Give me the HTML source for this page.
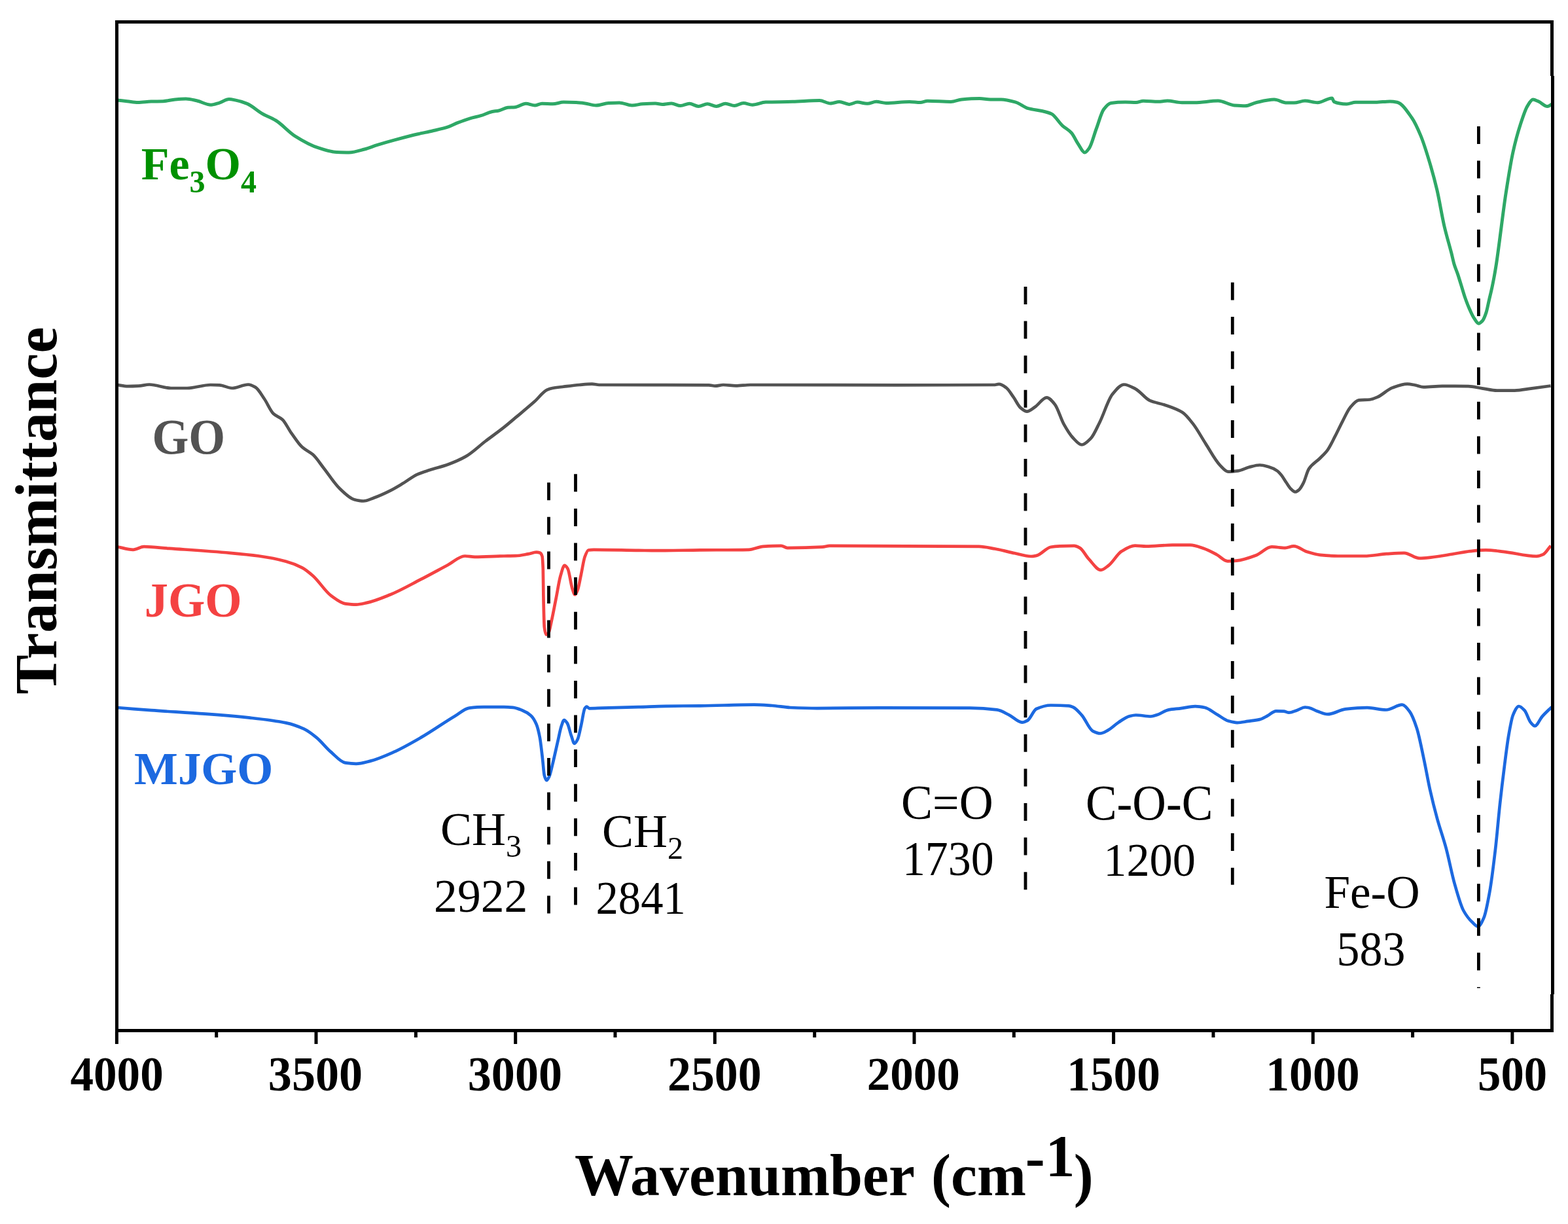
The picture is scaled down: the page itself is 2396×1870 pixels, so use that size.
<!DOCTYPE html>
<html><head><meta charset="utf-8"><style>html,body{margin:0;padding:0;background:#fff;}svg{display:block;}</style></head>
<body><svg width="2396" height="1870" viewBox="0 0 2396 1870">
<rect width="2396" height="1870" fill="#fff"/>
<path d="M178.7 152.9C183.9 153.5 189.1 154.1 194.3 154.7C199.8 155.3 205.3 156.6 210.8 156.6C217.5 156.6 224.3 155.3 231.0 155.1C237.1 154.9 243.2 154.9 249.3 154.7C255.4 154.5 261.5 152.5 267.6 152.0C273.1 151.5 278.5 151.0 284.0 151.0C289.5 151.0 295.0 152.6 300.5 153.8C307.8 155.4 315.2 160.2 322.5 160.2C326.8 160.2 331.0 158.3 335.3 157.1C340.2 155.7 345.1 151.6 350.0 151.6C353.1 151.6 356.1 152.3 359.2 152.9C365.3 154.0 371.4 155.9 377.5 158.4C385.4 161.6 393.4 169.5 401.3 174.0C408.0 177.8 414.7 179.9 421.4 184.0C431.2 189.9 440.9 201.7 450.7 207.8C462.9 215.5 475.2 222.4 487.4 226.2C496.5 229.1 505.7 232.3 514.8 232.6C520.9 232.8 527.1 233.0 533.2 233.0C541.1 233.0 549.1 230.1 557.0 228.0C563.3 226.3 569.7 223.6 576.0 221.6C585.0 218.8 594.0 216.2 603.0 213.8C614.9 210.6 626.8 207.4 638.7 204.7C646.0 203.0 653.4 201.7 660.7 200.0C668.9 198.1 677.2 196.4 685.4 193.7C690.0 192.2 694.5 189.5 699.1 187.7C705.5 185.2 712.0 182.7 718.4 180.8C723.9 179.2 729.3 178.3 734.8 176.7C740.3 175.1 745.8 171.9 751.3 170.7C755.0 169.9 758.6 169.8 762.3 169.0C766.9 168.0 771.4 164.7 776.0 164.3C779.7 164.0 783.3 164.1 787.0 163.8C792.5 163.4 798.0 158.3 803.5 158.3C808.1 158.3 812.7 161.0 817.3 161.0C820.9 161.0 824.6 158.3 828.2 158.3C833.7 158.3 839.2 158.8 844.7 158.8C850.2 158.8 855.7 156.1 861.2 156.1C867.6 156.1 874.0 156.3 880.4 156.6C885.0 156.8 889.6 157.4 894.2 158.0C899.7 158.7 905.2 161.0 910.7 161.0C917.1 161.0 923.5 157.9 929.9 157.5C935.4 157.2 940.9 156.9 946.4 156.9C952.8 156.9 959.2 161.0 965.6 161.0C971.1 161.0 976.5 159.2 982.0 158.8C988.4 158.4 994.9 158.0 1001.3 158.0C1005.0 158.0 1008.6 159.4 1012.3 159.4C1016.9 159.4 1021.4 158.0 1026.0 158.0C1030.6 158.0 1035.2 161.6 1039.8 161.6C1044.4 161.6 1048.9 158.3 1053.5 158.3C1058.1 158.3 1062.7 162.4 1067.3 162.4C1071.9 162.4 1076.4 158.8 1081.0 158.8C1085.6 158.8 1090.1 162.4 1094.7 162.4C1099.3 162.4 1103.9 158.3 1108.5 158.3C1113.1 158.3 1117.6 161.6 1122.2 161.6C1126.8 161.6 1131.4 157.5 1136.0 157.5C1140.6 157.5 1145.1 160.2 1149.7 160.2C1156.5 160.2 1163.2 156.4 1170.0 156.1C1183.7 155.6 1197.5 155.7 1211.2 155.3C1224.9 154.9 1238.7 153.4 1252.4 153.4C1257.9 153.4 1263.4 158.0 1268.9 158.0C1273.5 158.0 1278.0 155.5 1282.6 155.5C1287.6 155.5 1292.7 159.4 1297.7 159.4C1301.8 159.4 1306.0 156.1 1310.1 156.1C1315.1 156.1 1320.2 158.3 1325.2 158.3C1329.8 158.3 1334.4 155.3 1339.0 155.3C1344.0 155.3 1349.0 157.5 1354.0 157.5C1365.9 157.5 1377.9 155.5 1389.8 155.5C1395.3 155.5 1400.8 156.6 1406.3 156.6C1410.0 156.6 1413.6 154.2 1417.3 154.2C1429.2 154.2 1441.1 155.5 1453.0 155.5C1458.5 155.5 1464.0 152.5 1469.5 152.0C1478.6 151.2 1487.8 150.6 1496.9 150.6C1502.4 150.6 1507.9 152.0 1513.4 152.0C1518.9 152.0 1524.4 152.0 1529.9 152.0C1537.2 152.0 1544.6 154.1 1551.9 156.1C1558.3 157.9 1564.7 163.9 1571.1 165.7C1578.4 167.7 1585.8 168.1 1593.1 169.8C1597.7 170.9 1602.2 171.9 1606.8 174.0C1612.3 176.6 1617.8 186.8 1623.3 191.8C1627.9 196.0 1632.4 197.8 1637.0 202.8C1640.7 206.8 1644.3 215.5 1648.0 220.7C1651.2 225.3 1654.4 233.0 1657.6 233.0C1659.9 233.0 1662.2 229.4 1664.5 226.2C1668.2 221.1 1671.8 205.8 1675.5 196.0C1679.2 186.2 1682.8 171.9 1686.5 167.1C1690.2 162.3 1693.8 158.0 1697.5 157.5C1704.8 156.5 1712.2 156.1 1719.5 156.1C1725.0 156.1 1730.5 156.6 1736.0 156.6C1739.7 156.6 1743.3 154.2 1747.0 154.2C1754.7 154.2 1762.3 155.3 1770.0 155.3C1774.6 155.3 1779.2 154.0 1783.8 154.0C1791.2 154.0 1798.6 156.8 1806.0 156.8C1812.4 156.8 1818.9 156.8 1825.3 156.8C1837.3 156.8 1849.3 154.0 1861.3 154.0C1869.6 154.0 1877.8 160.3 1886.1 161.0C1891.6 161.4 1897.2 161.8 1902.7 161.8C1908.2 161.8 1913.8 158.0 1919.3 156.8C1928.5 154.7 1937.8 152.1 1947.0 152.1C1953.4 152.1 1959.9 157.1 1966.3 157.1C1970.0 157.1 1973.7 157.1 1977.4 157.1C1982.9 157.1 1988.5 154.0 1994.0 154.0C2000.5 154.0 2006.9 156.8 2013.4 156.8C2020.8 156.8 2028.1 149.9 2035.5 149.9C2036.4 149.9 2037.4 155.0 2038.3 155.4C2044.7 158.2 2051.2 159.0 2057.6 159.0C2062.2 159.0 2066.8 156.3 2071.4 156.3C2081.6 156.3 2091.7 156.3 2101.9 156.3C2109.3 156.3 2116.6 154.9 2124.0 154.9C2127.7 154.9 2131.3 155.5 2135.0 156.3C2142.4 157.8 2149.8 169.3 2157.2 179.8C2161.8 186.3 2166.4 196.3 2171.0 207.4C2175.6 218.5 2180.2 233.5 2184.8 248.9C2188.5 261.3 2192.2 274.6 2195.9 290.4C2199.6 306.2 2203.3 329.8 2207.0 345.7C2210.7 361.4 2214.3 372.7 2218.0 387.2C2219.3 392.3 2220.6 398.8 2221.9 403.2C2223.8 409.7 2225.8 413.6 2227.7 419.4C2229.4 424.6 2231.2 430.5 2232.9 436.1C2234.8 442.3 2236.8 449.3 2238.7 454.8C2241.1 461.6 2243.4 467.6 2245.8 472.9C2248.0 477.7 2250.1 482.6 2252.3 485.8C2254.7 489.3 2257.0 494.2 2259.4 494.2C2261.3 494.2 2263.3 492.3 2265.2 490.3C2267.1 488.3 2269.1 483.1 2271.0 477.4C2272.5 472.9 2274.0 464.5 2275.5 458.1C2277.0 451.7 2278.5 445.7 2280.0 438.7C2281.1 433.7 2282.1 428.4 2283.2 422.6C2284.3 416.6 2285.4 410.3 2286.5 403.2C2287.6 395.9 2288.8 387.2 2289.9 378.9C2293.6 352.0 2297.3 320.0 2301.0 295.9C2304.7 272.0 2308.3 249.0 2312.0 232.3C2315.7 215.5 2319.4 202.2 2323.1 190.8C2326.8 179.5 2330.4 167.6 2334.1 161.8C2336.9 157.4 2339.7 152.1 2342.5 152.1C2345.3 152.1 2348.0 153.8 2350.8 154.9C2355.4 156.8 2360.0 162.6 2364.6 162.6C2366.9 162.6 2369.2 160.2 2371.5 159.0" fill="none" stroke="#2ea866" stroke-width="5.0" stroke-linejoin="round"/>
<path d="M178.7 588.0C184.2 588.7 189.7 590.2 195.2 590.2C200.7 590.2 206.2 590.0 211.7 589.7C217.2 589.4 222.7 587.5 228.2 587.5C239.2 587.5 250.2 593.0 261.2 593.0C269.4 593.0 277.7 593.0 285.9 593.0C297.8 593.0 309.7 588.0 321.6 588.0C326.2 588.0 330.7 588.1 335.3 588.3C341.7 588.5 348.2 593.0 354.6 593.0C362.8 593.0 371.1 587.5 379.3 587.5C383.0 587.5 386.6 589.5 390.3 591.6C394.9 594.2 399.4 602.9 404.0 609.5C408.6 616.2 413.2 627.7 417.8 632.0C422.4 636.3 426.9 636.8 431.5 641.0C436.1 645.2 440.6 655.2 445.2 661.6C450.7 669.3 456.2 678.1 461.7 683.1C467.2 688.1 472.7 689.7 478.2 694.6C483.7 699.5 489.2 708.3 494.7 715.2C502.9 725.6 511.2 739.1 519.4 746.8C526.7 753.7 534.1 761.5 541.4 763.3C546.0 764.5 550.5 765.5 555.1 765.5C560.6 765.5 566.1 762.5 571.6 760.5C579.8 757.6 588.1 753.7 596.3 749.6C602.7 746.4 609.2 742.4 615.6 738.6C622.9 734.2 630.2 728.1 637.5 724.8C643.9 721.9 650.4 720.1 656.8 718.0C665.9 715.0 675.1 713.0 684.2 709.7C693.4 706.4 702.5 702.6 711.7 697.4C721.8 691.7 731.8 681.7 741.9 674.0C751.3 666.9 760.6 660.3 770.0 652.9C776.4 647.8 782.8 642.3 789.2 636.9C798.4 629.2 807.5 621.8 816.7 613.6C823.1 607.9 829.5 598.6 835.9 595.7C838.7 594.4 841.4 593.5 844.2 593.0C851.5 591.6 858.9 591.1 866.2 590.2C872.6 589.4 879.0 588.6 885.4 588.0C891.8 587.4 898.2 586.6 904.6 586.6C908.3 586.6 911.9 588.0 915.6 588.0C971.5 588.3 1027.3 588.0 1083.2 588.3C1086.4 588.3 1089.6 589.7 1092.8 589.7C1096.9 589.7 1101.1 588.0 1105.2 588.0C1111.6 588.0 1118.0 589.4 1124.4 589.4C1131.7 589.4 1139.1 588.0 1146.4 588.0C1220.9 588.0 1295.5 588.3 1370.0 588.3C1419.5 588.3 1468.9 588.3 1518.4 588.0C1521.1 588.0 1523.9 586.9 1526.6 586.9C1530.3 586.9 1533.9 589.8 1537.6 592.4C1541.3 595.0 1544.9 601.6 1548.6 606.7C1552.3 611.8 1555.9 620.2 1559.6 623.2C1562.8 625.8 1566.0 628.7 1569.2 628.7C1573.3 628.7 1577.4 624.5 1581.5 621.8C1587.5 617.9 1593.4 607.3 1599.4 607.3C1603.5 607.3 1607.7 612.7 1611.8 617.7C1616.4 623.2 1620.9 639.7 1625.5 647.9C1630.1 656.1 1634.6 663.7 1639.2 668.5C1643.8 673.3 1648.4 679.5 1653.0 679.5C1657.6 679.5 1662.1 674.5 1666.7 669.9C1671.3 665.3 1675.8 654.2 1680.4 645.2C1686.8 632.5 1693.3 610.4 1699.7 602.6C1705.6 595.4 1711.6 587.5 1717.5 587.5C1723.5 587.5 1729.4 591.2 1735.4 594.3C1742.7 598.1 1750.1 609.1 1757.4 612.2C1764.7 615.3 1772.0 616.0 1779.3 618.5C1788.5 621.6 1797.6 624.3 1806.8 630.0C1812.3 633.4 1817.8 640.9 1823.3 647.9C1829.7 656.1 1836.1 668.3 1842.5 678.1C1849.8 689.4 1857.2 703.8 1864.5 711.1C1868.6 715.2 1872.8 720.7 1876.9 720.7C1881.9 720.7 1887.0 720.0 1892.0 719.3C1897.5 718.5 1903.0 715.2 1908.5 713.8C1914.0 712.4 1919.5 710.5 1925.0 710.5C1929.6 710.5 1934.1 712.0 1938.7 713.3C1942.9 714.5 1947.1 716.3 1951.3 719.1C1953.5 720.5 1955.7 723.1 1957.9 725.7C1960.4 728.7 1962.9 733.4 1965.4 737.0C1967.9 740.6 1970.4 745.1 1972.9 747.3C1975.1 749.2 1977.3 751.5 1979.5 751.5C1981.4 751.5 1983.2 749.8 1985.1 748.2C1987.3 746.3 1989.5 742.2 1991.7 737.9C1994.5 732.6 1997.2 720.4 2000.0 716.3C2005.7 707.9 2011.4 705.8 2017.1 700.0C2020.9 696.1 2024.8 692.8 2028.6 687.6C2032.4 682.4 2036.2 674.0 2040.0 666.7C2043.8 659.4 2047.6 651.1 2051.4 643.8C2055.2 636.5 2059.1 627.4 2062.9 622.9C2067.3 617.7 2071.8 611.9 2076.2 611.4C2081.9 610.8 2087.6 611.0 2093.3 610.5C2097.1 610.1 2101.0 608.3 2104.8 606.7C2112.4 603.5 2120.0 595.1 2127.6 592.4C2135.2 589.7 2142.9 586.7 2150.5 586.7C2154.3 586.7 2158.1 587.6 2161.9 588.2C2166.3 588.9 2170.8 591.4 2175.2 591.4C2184.7 591.4 2194.3 589.9 2203.8 589.9C2217.1 589.9 2230.5 590.0 2243.8 590.1C2250.8 590.2 2257.8 592.3 2264.8 593.3C2272.4 594.4 2280.0 596.6 2287.6 596.6C2296.5 596.6 2305.4 596.6 2314.3 596.6C2323.2 596.6 2332.1 594.4 2341.0 593.3C2350.5 592.1 2360.0 590.8 2369.5 589.5" fill="none" stroke="#535353" stroke-width="4.7" stroke-linejoin="round"/>
<path d="M178.7 835.2C187.0 836.7 195.2 839.8 203.5 839.8C209.0 839.8 214.5 835.2 220.0 835.2C232.8 835.2 245.6 837.0 258.4 837.9C289.5 840.1 320.7 842.0 351.8 844.8C366.5 846.1 381.1 847.5 395.8 849.5C409.5 851.4 423.3 854.0 437.0 857.7C445.2 859.9 453.5 863.0 461.7 867.3C467.2 870.2 472.7 874.9 478.2 879.7C487.4 887.8 496.5 903.1 505.7 909.9C513.0 915.3 520.3 921.3 527.6 922.3C533.1 923.0 538.6 923.6 544.1 923.6C549.6 923.6 555.1 922.1 560.6 920.9C572.5 918.4 584.4 913.3 596.3 908.5C611.9 902.2 627.4 893.2 643.0 885.2C656.7 878.1 670.5 870.5 684.2 863.2C692.9 858.6 701.6 849.5 710.3 849.5C715.4 849.5 720.4 850.8 725.5 850.8C740.3 850.8 755.2 849.8 770.0 849.5C776.0 849.4 781.9 849.4 787.9 849.2C794.3 849.0 800.7 847.5 807.1 846.4C811.2 845.7 815.4 843.7 819.5 843.7C821.3 843.7 823.1 844.0 824.9 844.6C826.1 845.0 827.2 846.1 828.4 849.5C828.9 850.8 829.3 857.0 829.8 868.7C830.0 873.7 830.2 900.3 830.4 909.9C830.9 932.3 831.3 954.2 831.8 958.0C832.7 965.6 833.7 969.6 834.6 969.6C835.7 969.6 836.9 968.7 838.0 967.6C839.6 966.0 841.2 955.5 842.8 948.4C845.1 938.3 847.4 925.5 849.7 914.0C852.0 902.6 854.2 887.3 856.5 879.7C858.6 872.7 860.6 863.9 862.7 863.9C864.3 863.9 865.9 866.2 867.5 868.7C869.8 872.3 872.1 892.1 874.4 898.9C875.8 903.0 877.1 908.5 878.5 908.5C879.9 908.5 881.2 904.9 882.6 901.6C884.4 897.2 886.3 885.4 888.1 876.9C889.9 868.4 891.8 855.7 893.6 850.8C895.4 845.9 897.3 840.8 899.1 840.5C901.9 840.0 904.6 839.8 907.4 839.8C930.3 839.8 953.1 840.6 976.0 840.9C985.2 841.0 994.3 841.2 1003.5 841.2C1025.7 841.2 1047.8 840.6 1070.0 840.4C1094.7 840.2 1119.5 840.3 1144.2 839.8C1151.5 839.7 1158.9 835.4 1166.2 834.9C1175.3 834.3 1184.5 833.8 1193.6 833.8C1196.8 833.8 1200.0 837.1 1203.2 837.1C1221.1 837.1 1238.9 836.7 1256.8 835.7C1260.5 835.5 1264.1 833.8 1267.8 833.8C1343.8 833.8 1419.8 834.0 1495.8 834.9C1504.0 835.0 1512.3 837.1 1520.5 838.5C1530.6 840.3 1540.7 843.2 1550.8 845.3C1559.0 847.0 1567.3 850.0 1575.5 850.0C1578.2 850.0 1581.0 849.4 1583.7 848.9C1591.0 847.4 1598.4 836.9 1605.7 835.7C1610.3 834.9 1614.9 834.5 1619.5 834.3C1626.8 834.0 1634.1 833.8 1641.4 833.8C1644.3 833.8 1647.2 835.5 1650.1 837.1C1654.6 839.6 1659.1 849.1 1663.6 853.9C1669.8 860.4 1675.9 870.8 1682.1 870.8C1686.0 870.8 1690.0 866.9 1693.9 864.0C1700.6 859.1 1707.4 846.1 1714.1 842.1C1720.9 838.0 1727.6 833.7 1734.4 833.7C1740.0 833.7 1745.6 834.7 1751.2 834.7C1764.7 834.7 1778.2 832.7 1791.7 832.7C1800.7 832.7 1809.6 832.7 1818.6 832.7C1825.4 832.7 1832.1 835.5 1838.9 837.7C1845.6 839.9 1852.4 843.6 1859.1 847.2C1864.7 850.2 1870.3 857.3 1875.9 857.3C1880.4 857.3 1884.9 857.0 1889.4 856.6C1899.5 855.8 1909.6 852.0 1919.7 848.2C1927.6 845.3 1935.4 835.4 1943.3 835.4C1950.0 835.4 1956.8 837.1 1963.5 837.1C1968.0 837.1 1972.5 834.4 1977.0 834.4C1983.8 834.4 1990.5 841.0 1997.3 843.1C2004.0 845.2 2010.8 847.2 2017.5 847.9C2026.5 848.8 2035.4 849.5 2044.4 849.5C2057.9 849.5 2071.4 849.5 2084.9 849.5C2096.1 849.5 2107.4 847.0 2118.6 846.2C2127.6 845.6 2136.6 844.8 2145.6 844.8C2153.5 844.8 2161.3 852.9 2169.2 852.9C2174.8 852.9 2180.4 852.2 2186.0 851.6C2197.2 850.5 2208.5 848.3 2219.7 846.5C2228.7 845.1 2237.7 843.0 2246.7 842.1C2254.6 841.3 2262.4 840.4 2270.3 840.4C2279.3 840.4 2288.2 841.8 2297.2 842.8C2314.1 844.6 2330.9 849.9 2347.8 849.9C2351.2 849.9 2354.5 848.6 2357.9 847.2C2361.8 845.5 2365.8 838.2 2369.7 833.7" fill="none" stroke="#f44242" stroke-width="4.7" stroke-linejoin="round"/>
<path d="M178.7 1081.0C196.1 1082.4 213.6 1083.9 231.0 1085.2C258.5 1087.2 285.9 1088.6 313.4 1090.7C336.3 1092.4 359.1 1094.2 382.0 1096.7C400.3 1098.7 418.7 1100.6 437.0 1104.4C446.2 1106.3 455.3 1109.5 464.5 1113.7C470.9 1116.7 477.3 1121.7 483.7 1126.9C491.0 1132.9 498.4 1142.6 505.7 1148.9C513.0 1155.2 520.3 1164.3 527.6 1165.4C533.1 1166.2 538.6 1166.8 544.1 1166.8C551.4 1166.8 558.8 1164.4 566.1 1162.6C578.0 1159.6 589.9 1154.2 601.8 1148.9C615.5 1142.8 629.3 1134.8 643.0 1126.9C660.4 1116.9 677.8 1104.3 695.2 1094.0C702.5 1089.7 709.9 1082.4 717.2 1081.6C724.5 1080.8 731.9 1080.2 739.2 1080.2C749.5 1080.2 759.7 1080.2 770.0 1080.2C774.6 1080.2 779.1 1080.5 783.7 1080.9C788.3 1081.3 792.9 1083.2 797.5 1085.0C802.1 1086.8 806.6 1089.2 811.2 1093.3C814.0 1095.8 816.7 1100.0 819.5 1106.3C821.3 1110.4 823.1 1117.5 824.9 1126.9C826.3 1134.2 827.7 1148.0 829.1 1159.9C830.0 1167.6 830.9 1181.3 831.8 1184.6C832.9 1188.8 834.1 1192.2 835.2 1192.2C836.6 1192.2 838.0 1188.9 839.4 1186.0C841.0 1182.6 842.6 1174.5 844.2 1168.1C846.9 1157.2 849.7 1144.1 852.4 1132.4C854.2 1124.5 856.1 1114.3 857.9 1109.1C859.3 1105.2 860.6 1100.1 862.0 1100.1C863.6 1100.1 865.2 1102.5 866.8 1104.9C868.9 1108.0 870.9 1118.6 873.0 1124.2C874.6 1128.6 876.2 1135.9 877.8 1135.9C879.4 1135.9 881.0 1132.8 882.6 1129.7C884.4 1126.2 886.3 1115.6 888.1 1107.7C889.9 1099.8 891.8 1085.1 893.6 1082.3C894.5 1080.9 895.5 1079.5 896.4 1079.5C897.8 1079.5 899.1 1082.3 900.5 1082.3C907.4 1082.3 914.2 1081.8 921.1 1081.6C939.4 1081.1 957.7 1080.7 976.0 1080.2C989.8 1079.8 1003.5 1079.0 1017.3 1078.8C1034.9 1078.5 1052.4 1078.5 1070.0 1078.3C1097.5 1078.0 1124.9 1076.6 1152.4 1076.6C1161.6 1076.6 1170.7 1077.4 1179.9 1078.0C1189.1 1078.6 1198.2 1080.6 1207.4 1081.0C1221.1 1081.6 1234.9 1082.1 1248.6 1082.1C1280.6 1082.1 1312.7 1081.3 1344.7 1081.3C1390.5 1081.3 1436.3 1081.4 1482.1 1081.6C1495.8 1081.7 1509.6 1082.6 1523.3 1084.3C1529.7 1085.1 1536.1 1089.5 1542.5 1092.6C1548.9 1095.8 1555.4 1103.6 1561.8 1103.6C1564.5 1103.6 1567.3 1102.2 1570.0 1100.8C1574.6 1098.4 1579.1 1085.0 1583.7 1083.0C1591.0 1079.8 1598.4 1077.5 1605.7 1077.5C1614.9 1077.5 1624.0 1077.7 1633.2 1078.3C1635.5 1078.4 1637.7 1079.5 1640.0 1080.5C1644.4 1082.5 1648.8 1087.9 1653.2 1092.9C1658.7 1099.1 1664.2 1114.0 1669.7 1116.8C1673.5 1118.7 1677.4 1120.5 1681.2 1120.5C1685.0 1120.5 1688.9 1117.9 1692.7 1115.9C1698.2 1113.1 1703.7 1107.2 1709.2 1103.6C1714.7 1100.0 1720.2 1095.6 1725.7 1094.2C1729.0 1093.4 1732.3 1092.5 1735.6 1092.5C1743.3 1092.5 1751.0 1094.5 1758.7 1094.5C1762.0 1094.5 1765.3 1093.0 1768.6 1092.0C1774.1 1090.3 1779.5 1085.7 1785.0 1084.6C1791.6 1083.3 1798.2 1083.0 1804.8 1082.1C1812.0 1081.2 1819.1 1079.2 1826.3 1079.2C1831.2 1079.2 1836.2 1080.0 1841.1 1081.0C1847.1 1082.2 1853.2 1087.8 1859.2 1091.2C1865.2 1094.6 1871.3 1099.9 1877.3 1101.6C1881.7 1102.8 1886.1 1104.1 1890.5 1104.1C1896.0 1104.1 1901.5 1102.7 1907.0 1101.9C1913.0 1101.0 1919.1 1100.6 1925.1 1099.1C1929.0 1098.2 1932.8 1095.7 1936.7 1093.7C1941.1 1091.5 1945.5 1086.3 1949.9 1086.3C1953.7 1086.3 1957.6 1086.4 1961.4 1086.6C1964.2 1086.7 1966.9 1088.7 1969.7 1088.7C1973.5 1088.7 1977.4 1086.6 1981.2 1085.4C1985.6 1084.0 1990.0 1080.5 1994.4 1080.5C1996.3 1080.5 1998.1 1080.9 2000.0 1081.2C2004.5 1082.0 2008.9 1085.3 2013.4 1086.8C2018.6 1088.6 2023.8 1091.2 2029.0 1091.2C2037.9 1091.2 2046.8 1084.4 2055.7 1083.4C2066.8 1082.2 2078.0 1081.2 2089.1 1081.2C2098.8 1081.2 2108.4 1084.5 2118.1 1084.5C2126.3 1084.5 2134.4 1076.7 2142.6 1076.7C2146.3 1076.7 2150.1 1082.0 2153.8 1086.8C2157.5 1091.6 2161.2 1101.2 2164.9 1112.4C2168.6 1123.7 2172.4 1143.9 2176.1 1161.4C2179.1 1175.3 2182.0 1192.7 2185.0 1206.0C2188.7 1222.6 2192.4 1237.1 2196.1 1250.6C2200.6 1266.9 2205.0 1278.7 2209.5 1295.2C2214.0 1311.7 2218.4 1335.3 2222.9 1350.9C2227.3 1366.4 2231.8 1382.8 2236.2 1391.0C2240.7 1399.2 2245.1 1404.6 2249.6 1408.8C2252.6 1411.6 2255.5 1415.5 2258.5 1415.5C2261.5 1415.5 2264.4 1408.8 2267.4 1402.1C2270.4 1395.4 2273.4 1378.8 2276.4 1362.0C2279.4 1345.4 2282.3 1320.8 2285.3 1295.2C2287.5 1275.9 2289.8 1248.7 2292.0 1228.3C2294.2 1208.2 2296.4 1189.9 2298.6 1172.6C2300.8 1155.1 2303.1 1136.2 2305.3 1123.5C2307.5 1110.8 2309.8 1097.5 2312.0 1092.3C2315.0 1085.4 2317.9 1079.0 2320.9 1079.0C2323.9 1079.0 2326.8 1082.5 2329.8 1085.7C2332.8 1089.0 2335.8 1100.0 2338.8 1103.5C2341.0 1106.1 2343.2 1109.1 2345.4 1109.1C2349.1 1109.1 2352.9 1098.8 2356.6 1094.6C2361.4 1089.1 2366.3 1084.9 2371.1 1080.1" fill="none" stroke="#1c69e0" stroke-width="4.7" stroke-linejoin="round"/>
<line x1="838.5" y1="737.2" x2="838.5" y2="1395.4" stroke="#000" stroke-width="4.8" stroke-dasharray="27 25.6"/>
<line x1="879.5" y1="724.3" x2="879.5" y2="1382.5" stroke="#000" stroke-width="4.8" stroke-dasharray="27 25.6"/>
<line x1="1567.0" y1="438.0" x2="1567.0" y2="1359.2" stroke="#000" stroke-width="4.8" stroke-dasharray="27 25.6"/>
<line x1="1883.3" y1="431.5" x2="1883.3" y2="1351.7" stroke="#000" stroke-width="4.8" stroke-dasharray="27 25.6"/>
<line x1="2259.4" y1="193.0" x2="2259.4" y2="1509.5" stroke="#000" stroke-width="4.8" stroke-dasharray="27 25.6"/>
<g fill="#000"><rect x="176" y="31" width="2198" height="5"/><rect x="176" y="31" width="5" height="1546"/><rect x="176" y="1572" width="2198" height="5"/><rect x="2369" y="31" width="5" height="85"/><rect x="2370" y="116" width="5" height="1403"/><rect x="2369" y="1519" width="5" height="58"/><rect x="175.9" y="1577" width="5" height="18"/><rect x="480.5" y="1577" width="5" height="18"/><rect x="785.2" y="1577" width="5" height="18"/><rect x="1089.8" y="1577" width="5" height="18"/><rect x="1394.5" y="1577" width="5" height="18"/><rect x="1699.1" y="1577" width="5" height="18"/><rect x="2003.8" y="1577" width="5" height="18"/><rect x="2308.4" y="1577" width="5" height="18"/><rect x="328.2" y="1577" width="5" height="8"/><rect x="632.9" y="1577" width="5" height="8"/><rect x="937.5" y="1577" width="5" height="8"/><rect x="1242.2" y="1577" width="5" height="8"/><rect x="1546.8" y="1577" width="5" height="8"/><rect x="1851.5" y="1577" width="5" height="8"/><rect x="2156.1" y="1577" width="5" height="8"/></g>
<text id="t4000" font-family="Liberation Serif, Times New Roman, serif" x="178.6" y="1666.0" font-size="74.02" font-weight="bold" text-anchor="middle" textLength="142.2" lengthAdjust="spacingAndGlyphs">4000</text>
<text id="t3500" font-family="Liberation Serif, Times New Roman, serif" x="482.0" y="1666.0" font-size="74.02" font-weight="bold" text-anchor="middle" textLength="144.3" lengthAdjust="spacingAndGlyphs">3500</text>
<text id="t3000" font-family="Liberation Serif, Times New Roman, serif" x="786.9" y="1666.0" font-size="74.02" font-weight="bold" text-anchor="middle" textLength="144.2" lengthAdjust="spacingAndGlyphs">3000</text>
<text id="t2500" font-family="Liberation Serif, Times New Roman, serif" x="1091.8" y="1666.0" font-size="74.02" font-weight="bold" text-anchor="middle" textLength="143.5" lengthAdjust="spacingAndGlyphs">2500</text>
<text id="t2000" font-family="Liberation Serif, Times New Roman, serif" x="1395.8" y="1665.1" font-size="71.65" font-weight="bold" text-anchor="middle" textLength="142.2" lengthAdjust="spacingAndGlyphs">2000</text>
<text id="t1500" font-family="Liberation Serif, Times New Roman, serif" x="1701.6" y="1666.0" font-size="74.02" font-weight="bold" text-anchor="middle" textLength="142.6" lengthAdjust="spacingAndGlyphs">1500</text>
<text id="t1000" font-family="Liberation Serif, Times New Roman, serif" x="2005.9" y="1666.0" font-size="74.02" font-weight="bold" text-anchor="middle" textLength="143.4" lengthAdjust="spacingAndGlyphs">1000</text>
<text id="t500" font-family="Liberation Serif, Times New Roman, serif" x="2311.1" y="1666.0" font-size="74.02" font-weight="bold" text-anchor="middle" textLength="106.0" lengthAdjust="spacingAndGlyphs">500</text>
<text id="xlab" font-family="Liberation Serif, Times New Roman, serif" x="878.0" y="1826.0" font-size="90" font-weight="bold">Wavenumber <tspan x="1423.1">(cm</tspan><tspan x="1566.7" y="1799">-</tspan><tspan x="1597.4" y="1797">1</tspan><tspan x="1640.8" y="1826">)</tspan></text>
<text id="ylab" font-family="Liberation Serif, Times New Roman, serif" transform="translate(86 780) rotate(-90)" x="0.0" y="0.0" font-size="91" font-weight="bold" text-anchor="middle" textLength="561.4" lengthAdjust="spacingAndGlyphs">Transmittance</text>
<text id="fe3o4" font-family="Liberation Serif, Times New Roman, serif" x="215.7" y="274.4" font-size="70" font-weight="bold" fill="#009100">Fe<tspan font-size="48" dy="20">3</tspan><tspan dy="-20">O</tspan><tspan font-size="48" dy="20">4</tspan></text>
<text id="go" font-family="Liberation Serif, Times New Roman, serif" x="232.5" y="692.6" font-size="75.17" font-weight="bold" fill="#535353" textLength="111.7" lengthAdjust="spacingAndGlyphs">GO</text>
<text id="jgo" font-family="Liberation Serif, Times New Roman, serif" x="220.7" y="941.6" font-size="73.39" font-weight="bold" fill="#f44242" textLength="149.0" lengthAdjust="spacingAndGlyphs">JGO</text>
<text id="mjgo" font-family="Liberation Serif, Times New Roman, serif" x="205.1" y="1197.6" font-size="69.4" font-weight="bold" fill="#1c69e0" textLength="212.3" lengthAdjust="spacingAndGlyphs">MJGO</text>
<text id="ch3" font-family="Liberation Serif, Times New Roman, serif" x="673.0" y="1290.6" font-size="72">CH<tspan font-size="48" dy="18">3</tspan></text>
<text id="n2922" font-family="Liberation Serif, Times New Roman, serif" x="663.1" y="1393.0" font-size="72.67" textLength="143.2" lengthAdjust="spacingAndGlyphs">2922</text>
<text id="ch2" font-family="Liberation Serif, Times New Roman, serif" x="920.0" y="1294.3" font-size="72">CH<tspan font-size="48" dy="18">2</tspan></text>
<text id="n2841" font-family="Liberation Serif, Times New Roman, serif" x="910.5" y="1396.4" font-size="72.6" textLength="137.3" lengthAdjust="spacingAndGlyphs">2841</text>
<text id="co" font-family="Liberation Serif, Times New Roman, serif" x="1377.1" y="1250.5" font-size="73.26" textLength="140.6" lengthAdjust="spacingAndGlyphs">C=O</text>
<text id="n1730" font-family="Liberation Serif, Times New Roman, serif" x="1378.9" y="1337.0" font-size="73.26" textLength="139.8" lengthAdjust="spacingAndGlyphs">1730</text>
<text id="coc" font-family="Liberation Serif, Times New Roman, serif" x="1658.9" y="1252.0" font-size="75.11" textLength="194.5" lengthAdjust="spacingAndGlyphs">C-O-C</text>
<text id="n1200" font-family="Liberation Serif, Times New Roman, serif" x="1686.2" y="1338.4" font-size="72.0" textLength="140.8" lengthAdjust="spacingAndGlyphs">1200</text>
<text id="feo" font-family="Liberation Serif, Times New Roman, serif" x="2023.4" y="1386.8" font-size="71.4" textLength="146.3" lengthAdjust="spacingAndGlyphs">Fe-O</text>
<text id="n583" font-family="Liberation Serif, Times New Roman, serif" x="2042.6" y="1474.8" font-size="73.88" textLength="104.8" lengthAdjust="spacingAndGlyphs">583</text>
</svg></body></html>
